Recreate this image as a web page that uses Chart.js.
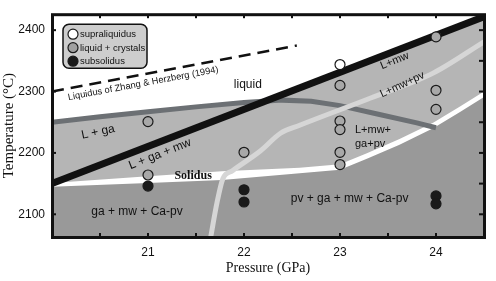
<!DOCTYPE html>
<html>
<head>
<meta charset="utf-8">
<script src="https://cdn.jsdelivr.net/npm/chart.js@4.4.1/dist/chart.umd.min.js"></script>
<style>
  html, body { margin: 0; padding: 0; background: #fff; }
  #wrap { width: 496px; height: 281px; }
</style>
</head>
<body>
<div id="wrap"><canvas id="chart" width="496" height="281"></canvas></div>
<script>
// Phase diagram: temperature vs pressure

const xTicks = [21, 22, 23, 24];
const yTicks = [2100, 2200, 2300, 2400];
const xMinor = [20.5, 21, 21.5, 22, 22.5, 23, 23.5, 24];
const yMinor = [2100, 2150, 2200, 2250, 2300, 2350, 2400];

// experiments: [pressure GPa, temperature C]
const supraliquidus = [[23, 2344]];
const liquidCrystals = [[21, 2251], [21, 2164], [22, 2201], [23, 2310], [23, 2252], [23, 2238],
                        [23, 2201], [23, 2181], [24, 2389], [24, 2302], [24, 2271]];
const subsolidus = [[21, 2146], [22, 2140], [22, 2120], [24, 2130], [24, 2117]];

// phase boundaries
const mwLiquidus = [[20, 2150], [24.5, 2422]];
const gaLiquidus = [[20, 2250], [20.5, 2259], [21, 2267], [21.5, 2275], [22, 2282], [22.4, 2286],
                    [22.7, 2284], [23, 2277], [23.4, 2263], [23.8, 2249], [24, 2241]];
const pvIn = [[21.65, 2060], [21.72, 2120], [21.78, 2158], [21.88, 2171], [22.17, 2203],
              [22.38, 2232], [22.58, 2245], [23.28, 2287], [23.97, 2330], [24.5, 2381]];
const solidusTop = [[20, 2151], [21, 2162], [21.77, 2170], [22.58, 2176], [23, 2181.5], [23.28, 2199.5],
                    [23.62, 2222.5], [23.97, 2249], [24.25, 2275.5], [24.5, 2300]];
const solidusBase = [[20, 2145], [21, 2151], [21.77, 2156], [22.58, 2167], [23, 2172.5], [23.28, 2190.5],
                     [23.62, 2213.5], [23.97, 2240], [24.25, 2266.5], [24.5, 2291]];
const zhangHerzberg = [[20, 2300], [22.55, 2375]];

const pts = arr => arr.map(([x, y]) => ({ x, y }));

const LIGHT = '#b5b5b5';
const DARK = '#999999';
const SANS = "'Liberation Sans', Arial, sans-serif";
const SERIF = "'Liberation Serif', 'Times New Roman', serif";

function area(data, color, order) {
    return { data: pts(data), showLine: true, fill: 'start', backgroundColor: color,
             borderWidth: 0, pointRadius: 0, tension: 0, order, clip: 0 };
}
function curve(data, color, width, order, dash, smooth) {
    return { data: pts(data), showLine: true, fill: false, borderColor: color, borderWidth: width,
             borderDash: dash || [], pointRadius: 0, order, clip: 0,
             tension: smooth ? 0.4 : 0, cubicInterpolationMode: smooth ? 'monotone' : 'default' };
}
function marks(data, fillColor, order) {
    return { data: pts(data), showLine: false, backgroundColor: fillColor, borderColor: '#1a1a1a',
             borderWidth: 1.2, pointRadius: 5, pointHoverRadius: 5, order };
}

// text inside the plot, placed in data units
const labels = [
    { t: 'Liquidus of Zhang & Herzberg (1994)', x: 20.95, y: 2313, rot: -10.6, font: '9.3px ' + SANS },
    { t: 'liquid', x: 22.04, y: 2311, rot: 0, font: '12px ' + SANS },
    { t: 'L + ga', x: 20.48, y: 2234, rot: -12, font: '12px ' + SANS },
    { t: 'L + ga + mw', x: 21.125, y: 2198, rot: -21.5, font: '12px ' + SANS },
    { t: 'Solidus', x: 21.47, y: 2162, rot: 0, font: 'bold 12px ' + SERIF },
    { t: 'L+mw', x: 23.57, y: 2350, rot: -22, font: '11px ' + SANS },
    { t: 'L+mw+pv', x: 23.65, y: 2311, rot: -25, font: '11px ' + SANS },
    { t: 'L+mw+', x: 23.156, y: 2237, rot: 0, font: '11px ' + SANS, align: 'left' },
    { t: 'ga+pv', x: 23.156, y: 2215, rot: 0, font: '11px ' + SANS, align: 'left' },
    { t: 'ga + mw + Ca-pv', x: 20.885, y: 2105, rot: 0, font: '12px ' + SANS },
    { t: 'pv + ga + mw + Ca-pv', x: 23.1, y: 2126, rot: 0, font: '12px ' + SANS }
];

const legendItems = [
    { t: 'supraliquidus', c: '#ffffff' },
    { t: 'liquid + crystals', c: '#a0a0a0' },
    { t: 'subsolidus', c: '#1a1a1a' }
];

const decor = {
    id: 'decor',
    afterDraw(chart) {
        const { ctx, chartArea: a, scales: { x, y } } = chart;
        ctx.save();

        // inward tick marks
        ctx.fillStyle = '#111';
        xMinor.forEach(v => {
            const px = x.getPixelForValue(v);
            ctx.fillRect(px - 1, a.bottom - 4, 2, 4);
            ctx.fillRect(px - 1, a.top, 2, 4);
        });
        yTicks.forEach(v => ctx.fillRect(a.left, y.getPixelForValue(v) - 1, 4, 2));
        yMinor.forEach(v => ctx.fillRect(a.right - 5, y.getPixelForValue(v) - 1, 5, 2));

        // frame
        ctx.lineWidth = 3;
        ctx.strokeStyle = '#111';
        ctx.strokeRect(a.left + 0.5, a.top + 0.5, a.width, a.height);

        // region labels
        ctx.fillStyle = '#111';
        ctx.textBaseline = 'middle';
        labels.forEach(l => {
            ctx.save();
            ctx.translate(x.getPixelForValue(l.x), y.getPixelForValue(l.y));
            ctx.rotate(l.rot * Math.PI / 180);
            ctx.font = l.font;
            ctx.textAlign = l.align || 'center';
            ctx.fillText(l.t, 0, 0);
            ctx.restore();
        });

        // legend box
        const lx = a.left + 11, ly = a.top + 10;
        ctx.beginPath();
        ctx.roundRect(lx, ly, 84, 44, 6);
        ctx.fillStyle = '#cdcdcd';
        ctx.fill();
        ctx.lineWidth = 1.5;
        ctx.strokeStyle = '#111';
        ctx.stroke();
        ctx.font = '9.5px ' + SANS;
        ctx.textAlign = 'left';
        legendItems.forEach((it, i) => {
            const cy = ly + 10 + i * 13.5;
            ctx.beginPath();
            ctx.arc(lx + 10, cy, 5, 0, Math.PI * 2);
            ctx.fillStyle = it.c;
            ctx.fill();
            ctx.lineWidth = 1.2;
            ctx.strokeStyle = '#1a1a1a';
            ctx.stroke();
            ctx.fillStyle = '#111';
            ctx.fillText(it.t, lx + 17, cy + 0.5);
        });

        ctx.restore();
    }
};

new Chart(document.getElementById('chart'), {
    type: 'scatter',
    data: {
        datasets: [
            area(mwLiquidus, LIGHT, 20),
            area(gaLiquidus, LIGHT, 19),
            area(solidusTop, '#ffffff', 18),
            area(solidusBase, DARK, 17),
            curve(gaLiquidus, '#6c7074', 5, 16),
            curve(pvIn, '#d6d6d6', 5, 15, null, true),
            curve(mwLiquidus, '#111111', 7, 14),
            curve(zhangHerzberg, '#111111', 2.5, 13, [12, 7]),
            marks(supraliquidus, '#ffffff', 3),
            marks(liquidCrystals, '#a8a8a8', 2),
            marks(subsolidus, '#1a1a1a', 1)
        ]
    },
    options: {
        responsive: false,
        animation: false,
        layout: { padding: { top: 3, right: 12, left: 0, bottom: 0 } },
        scales: {
            x: {
                type: 'linear', min: 20, max: 24.5,
                afterBuildTicks: s => { s.ticks = xTicks.map(v => ({ value: v })); },
                afterFit: s => { s.height = 44; },
                grid: { display: false, drawTicks: false },
                border: { display: false },
                ticks: { font: { family: SANS, size: 12 }, color: '#111', padding: 8,
                         callback: v => String(v) },
                title: { display: true, text: 'Pressure (GPa)', color: '#111',
                         font: { family: SERIF, size: 14 }, padding: { top: 4, bottom: 4 } }
            },
            y: {
                type: 'linear', min: 2063, max: 2426,
                afterBuildTicks: s => { s.ticks = yTicks.map(v => ({ value: v })); },
                afterFit: s => { s.width = 52; },
                grid: { display: false, drawTicks: false },
                border: { display: false },
                ticks: { font: { family: SANS, size: 12 }, color: '#111', padding: 7,
                         callback: v => String(v) },
                title: { display: true, text: 'Temperature (°C)', color: '#111',
                         font: { family: SERIF, size: 15 }, padding: { top: 0, bottom: 0 } }
            }
        },
        plugins: { legend: { display: false }, tooltip: { enabled: false } }
    },
    plugins: [decor]
});
</script>
</body>
</html>
